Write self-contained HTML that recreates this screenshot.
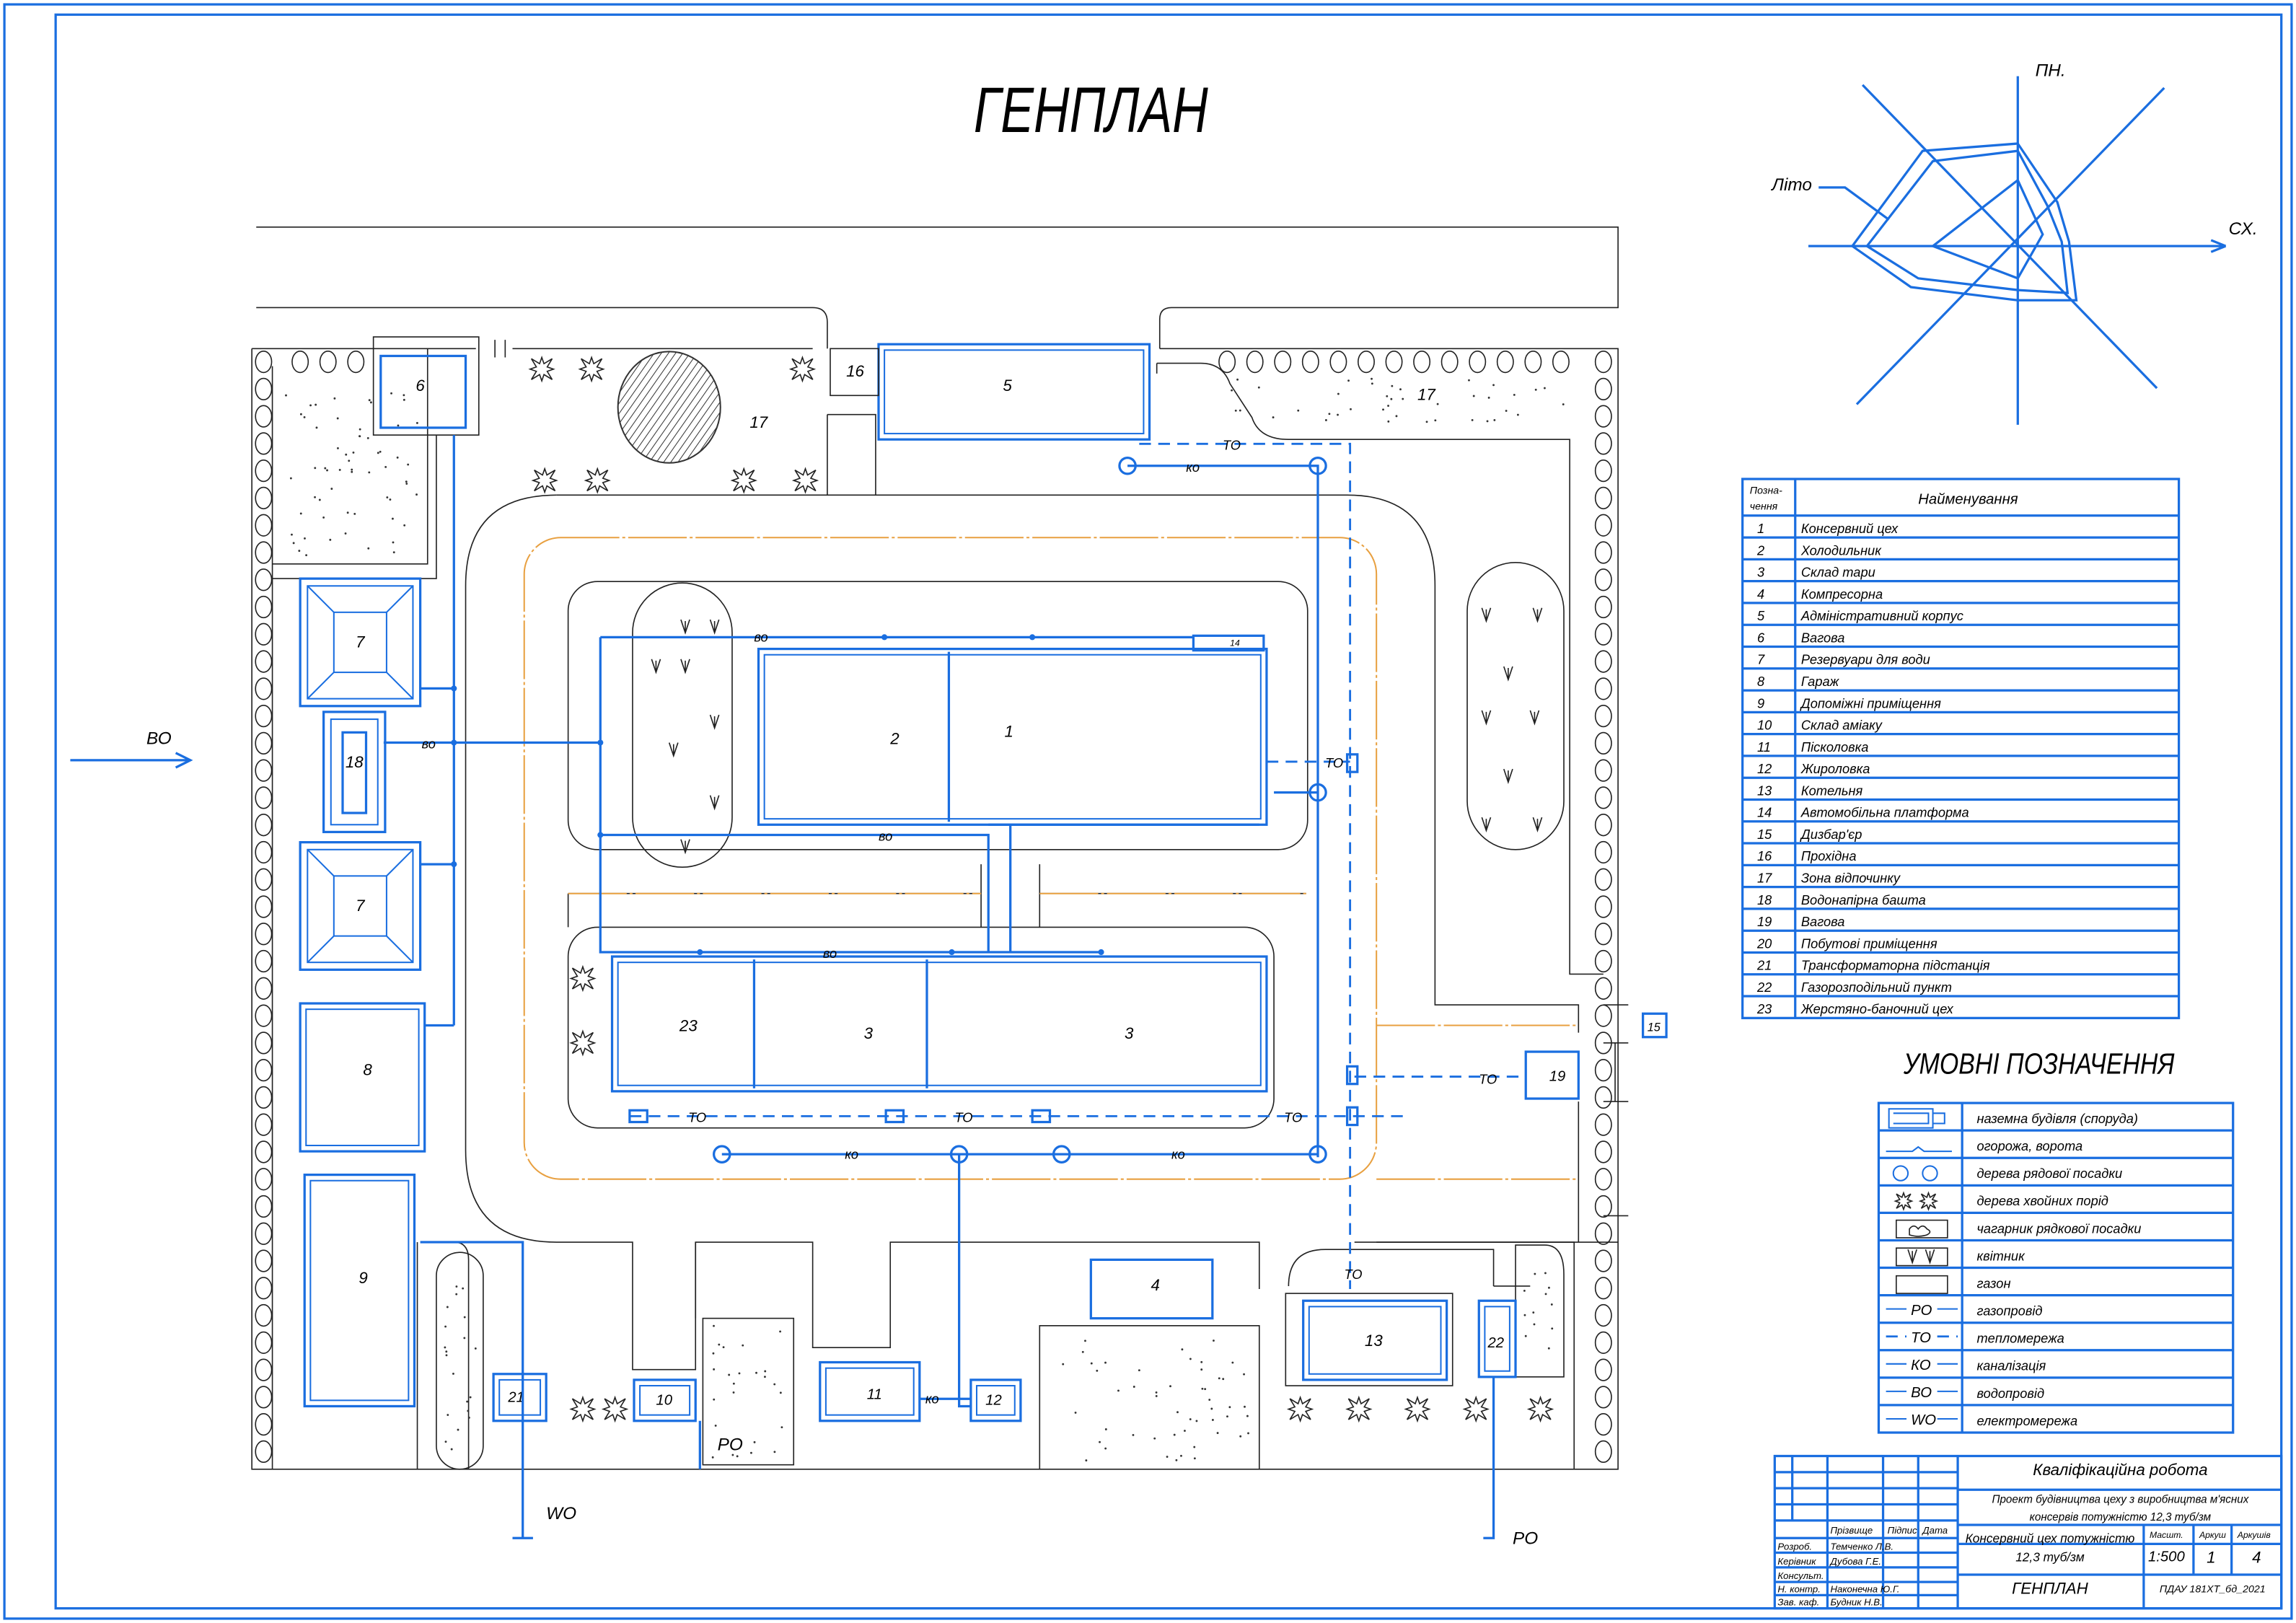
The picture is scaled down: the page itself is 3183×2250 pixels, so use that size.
<!DOCTYPE html>
<html><head><meta charset="utf-8"><style>
html,body{margin:0;padding:0;background:#fff;}
svg{display:block;}
text{font-family:"Liberation Sans","DejaVu Sans",sans-serif;font-style:italic;fill:#000;}
.b{stroke:#1a6ee0;fill:none;stroke-width:1.6}
.bt{stroke:#1a6ee0;fill:none;stroke-width:1}
.k{stroke:#222;fill:none;stroke-width:0.8}
.o{stroke:#e8a040;fill:none;stroke-width:1;stroke-dasharray:40 2 2 2}
.d{stroke:#1a6ee0;fill:none;stroke-width:1.4;stroke-dasharray:8 5}
</style></head><body>
<svg id="s" width="3183" height="2250" viewBox="0 0 1568 1108" preserveAspectRatio="none" xmlns="http://www.w3.org/2000/svg">
<rect x="0" y="0" width="1568" height="1108" fill="#fff"/>
<rect x="3" y="3" width="1562" height="1102" class="b"/>
<rect x="38" y="10" width="1520" height="1088" class="b"/>
<text x="745" y="90" font-size="44" text-anchor="middle" textLength="160" lengthAdjust="spacingAndGlyphs">ГЕНПЛАН</text>

<path class="k" d="M175 155 H1105 V210 H800 Q792 210 792 218 V238 M175 210 H555 Q565 210 565 220 V238"/>
<path class="k" d="M172 238 H325 M350 238 H555 M792 238 H1105 V1003 H172 V238"/>
<line x1="338" y1="232" x2="338" y2="244" class="k"/><line x1="345" y1="232" x2="345" y2="244" class="k"/>

<path class="k" d="M565 283 H598 V338 M565 283 V338 M380 338 H920 Q980 338 980 400 V686 H1078 V705 M1078 752 V848 H940 M1078 848 H1105"/>
<path class="k" d="M380 338 Q318 338 318 400 V785 Q318 848 380 848 H432 V935 H475 V848"/>
<path class="k" d="M475 900 V848 H555 V920 H608 V848 H860 V880 M925 848 H1075 V1003"/>
<path class="k" d="M790 248 H820 Q835 248 840 262 L855 285 Q860 300 880 300 H1072 V665 H1095 M790 248 V255"/>
<path class="k" d="M186 385 H292 V238 M186 250 V1003 M292 848 H310 Q320 848 320 860 V1003 M285 848 V1003 M186 395 H298 V297"/>
<rect x="298" y="855" width="32" height="148" rx="16" class="k"/>
<rect x="480" y="900" width="62" height="100" class="k"/>
<path class="k" d="M710 1003 V905 H860 V1003"/>
<path class="k" d="M1035 850 H1055 Q1068 850 1068 870 V940 H1035 Z"/>
<path class="k" d="M880 878 Q880 853 905 853 H1020 V878 M1045 878 H1020"/>
<rect x="388" y="397" width="505" height="183" rx="20" class="k"/>
<rect x="388" y="633" width="482" height="137" rx="20" class="k"/>
<path class="k" d="M388 610 H670 M710 610 H892 M388 633 V610 M670 590 V633 M710 590 V633"/>
<rect x="358" y="367" width="582" height="438" rx="25" class="o"/>
<path class="o" d="M940 700 H1078 M940 805 H1078 M388 610 H670 M710 610 H892"/>

<g id="dots" fill="#333"></g>

<rect x="255" y="230" width="72" height="67" class="k"/>
<rect x="260" y="243" width="58" height="49" class="b"/>
<text x="287" y="267" font-size="11" text-anchor="middle">6</text>
<rect x="600" y="235" width="185" height="65" class="b"/>
<rect x="604" y="239" width="177" height="57" class="bt"/>
<text x="688" y="267" font-size="11" text-anchor="middle">5</text>
<rect x="567" y="238" width="33" height="32" class="k"/>
<text x="584" y="257" font-size="11" text-anchor="middle">16</text>
<defs><pattern id="h" width="4" height="4" patternUnits="userSpaceOnUse" patternTransform="rotate(35)"><line x1="0" y1="0" x2="0" y2="4" stroke="#333" stroke-width="1"/></pattern></defs>
<ellipse cx="457" cy="278" rx="35" ry="38" fill="url(#h)" stroke="#333"/>
<text x="512" y="292" font-size="11">17</text>
<text x="968" y="273" font-size="11">17</text>

<rect x="518" y="443" width="347" height="120" class="b"/>
<rect x="522" y="447" width="339" height="112" class="bt"/>
<line x1="648" y1="445" x2="648" y2="561" class="b"/>
<text x="608" y="508" font-size="11">2</text><text x="686" y="503" font-size="11">1</text>
<rect x="815" y="434" width="48" height="10" class="b"/>
<text x="840" y="441" font-size="6">14</text>
<rect x="418" y="653" width="447" height="92" class="b"/>
<rect x="422" y="657" width="439" height="84" class="bt"/>
<line x1="515" y1="655" x2="515" y2="743" class="b"/><line x1="633" y1="655" x2="633" y2="743" class="b"/>
<text x="464" y="704" font-size="11">23</text><text x="590" y="709" font-size="11">3</text><text x="768" y="709" font-size="11">3</text>

<g><rect x="205" y="395" width="82" height="87" class="b"/><rect x="210" y="400" width="72" height="77" class="bt"/><rect x="228" y="418" width="36" height="41" class="bt"/><path class="bt" d="M210 400 L228 418 M282 400 L264 418 M210 477 L228 459 M282 477 L264 459"/><text x="246" y="442" font-size="11" text-anchor="middle">7</text></g>
<g transform="translate(0,180)"><rect x="205" y="395" width="82" height="87" class="b"/><rect x="210" y="400" width="72" height="77" class="bt"/><rect x="228" y="418" width="36" height="41" class="bt"/><path class="bt" d="M210 400 L228 418 M282 400 L264 418 M210 477 L228 459 M282 477 L264 459"/><text x="246" y="442" font-size="11" text-anchor="middle">7</text></g>
<rect x="221" y="486" width="42" height="82" class="b"/><rect x="226" y="491" width="32" height="72" class="bt"/><rect x="234" y="500" width="16" height="55" class="b"/>
<text x="242" y="524" font-size="11" text-anchor="middle">18</text>
<rect x="205" y="685" width="85" height="101" class="b"/><rect x="209" y="689" width="77" height="93" class="bt"/>
<text x="248" y="734" font-size="11">8</text>
<rect x="208" y="802" width="75" height="158" class="b"/><rect x="212" y="806" width="67" height="150" class="bt"/>
<text x="245" y="876" font-size="11">9</text>
<rect x="745" y="860" width="83" height="40" class="b"/><text x="786" y="881" font-size="11">4</text>
<rect x="878" y="883" width="114" height="63" class="k"/><rect x="890" y="888" width="98" height="54" class="b"/><rect x="894" y="892" width="90" height="46" class="bt"/><text x="932" y="919" font-size="11">13</text>
<rect x="1010" y="888" width="25" height="52" class="b"/><rect x="1014" y="892" width="17" height="44" class="bt"/><text x="1016" y="920" font-size="10">22</text>
<rect x="337" y="938" width="36" height="32" class="b"/><rect x="341" y="942" width="28" height="24" class="bt"/><text x="347" y="957" font-size="10">21</text>
<rect x="433" y="942" width="42" height="28" class="b"/><rect x="437" y="946" width="34" height="20" class="bt"/><text x="448" y="959" font-size="10">10</text>
<rect x="560" y="930" width="68" height="40" class="b"/><rect x="564" y="934" width="60" height="32" class="bt"/><text x="592" y="955" font-size="10">11</text>
<rect x="663" y="942" width="34" height="28" class="b"/><rect x="667" y="946" width="26" height="20" class="bt"/><text x="673" y="959" font-size="10">12</text>
<rect x="1042" y="718" width="36" height="32" class="b"/><text x="1058" y="738" font-size="10">19</text>
<rect x="1122" y="692" width="16" height="16" class="b"/><text x="1125" y="704" font-size="8">15</text>
<path class="k" d="M1095 686 H1112 M1095 712 H1112 M1103 712 V752 M1095 752 H1112 M1095 830 H1112"/>

<rect x="432" y="398" width="68" height="194" rx="34" class="k"/>
<rect x="1002" y="384" width="66" height="196" rx="33" class="k"/>
<g id="flw" class="k"></g>

<path class="b" stroke-width="1.2" d="M48 519 H130 M120 514 L130 519 L120 524 M262 507 H410 M310 297 V700 M287 470 H310 M287 590 H310 M290 700 H310 M410 435 V650 H752 M410 435 H815 M410 570 H675 V650 M690 563 V650 M675 563 H860"/>
<text x="100" y="508" font-size="12">ВО</text>
<text x="288" y="511" font-size="9">во</text><text x="515" y="438" font-size="9">во</text><text x="600" y="574" font-size="9">во</text><text x="562" y="654" font-size="9">во</text>
<g fill="#1a6ee0"><circle cx="310" cy="470" r="2"/><circle cx="310" cy="590" r="2"/><circle cx="310" cy="507" r="2"/><circle cx="410" cy="507" r="2"/><circle cx="410" cy="570" r="2"/><circle cx="604" cy="435" r="2"/><circle cx="705" cy="435" r="2"/><circle cx="478" cy="650" r="2"/><circle cx="650" cy="650" r="2"/><circle cx="752" cy="650" r="2"/></g>
<path class="b" stroke-width="1.2" d="M770 318 H900 V790 M493 788 H900 M655 788 V960 H663 M628 955 H663 M870 541 H900"/>
<g class="b" fill="#fff"><circle cx="770" cy="318" r="5.5"/><circle cx="900" cy="318" r="5.5"/><circle cx="900" cy="541" r="5.5"/><circle cx="493" cy="788" r="5.5"/><circle cx="655" cy="788" r="5.5"/><circle cx="725" cy="788" r="5.5"/><circle cx="900" cy="788" r="5.5"/></g>
<text x="810" y="322" font-size="9">ко</text><text x="577" y="791" font-size="9">ко</text><text x="800" y="791" font-size="9">ко</text><text x="632" y="958" font-size="9">ко</text>
<path class="d" d="M778 303 H922 V880 M430 762 H958 M925 735 H1042 M865 520 H922"/>
<g class="b" fill="#fff"><rect x="920" y="515" width="7" height="12"/><rect x="430" y="758" width="12" height="8"/><rect x="605" y="758" width="12" height="8"/><rect x="705" y="758" width="12" height="8"/><rect x="920" y="728" width="7" height="12"/><rect x="920" y="756" width="7" height="12"/></g>
<text x="835" y="307" font-size="9">ТО</text><text x="905" y="524" font-size="9">ТО</text><text x="470" y="766" font-size="9">ТО</text><text x="652" y="766" font-size="9">ТО</text><text x="877" y="766" font-size="9">ТО</text><text x="1010" y="740" font-size="9">ТО</text><text x="918" y="873" font-size="9">ТО</text>
<path class="b" stroke-width="1.2" d="M287 848 H357 V1050 M350 1050 H364 M478 970 V1003 M1020 940 V1050 H1013"/>
<text x="373" y="1037" font-size="12">WO</text><text x="490" y="990" font-size="12">РО</text><text x="1033" y="1054" font-size="12">РО</text>

<g id="conif" class="k"></g>
<g id="trees" class="k"></g>

<g class="b" stroke-width="1.2">
<line x1="1378" y1="52" x2="1378" y2="290"/><line x1="1235" y1="168" x2="1520" y2="168"/>
<line x1="1272" y1="58" x2="1473" y2="265"/><line x1="1268" y1="276" x2="1478" y2="60"/>
<path d="M1378 103 L1320 110 L1275 168 L1310 190 L1378 198 L1412 200 L1408 165 L1398 140 Z"/>
<path d="M1378 98 L1313 103 L1265 168 L1305 196 L1378 205 L1418 205 L1413 165 L1405 138 Z"/>
<path d="M1378 123 L1320 168 L1378 190 L1395 160 Z"/>
<path d="M1242 128 L1260 128 L1290 150"/>
</g>
<line x1="1510" y1="164" x2="1520" y2="168" class="b"/><line x1="1510" y1="172" x2="1520" y2="168" class="b"/>
<text x="1390" y="52" font-size="12">ПН.</text><text x="1522" y="160" font-size="12">СХ.</text><text x="1210" y="130" font-size="12">Літо</text>

<g id="tbl"></g>
<text x="1300" y="733" font-size="20" textLength="185" lengthAdjust="spacingAndGlyphs">УМОВНІ ПОЗНАЧЕННЯ</text>
<g id="leg"></g>

<g class="b" stroke-width="1.5">
<rect x="1212" y="994" width="346" height="104"/>
<path d="M1212 1005 H1337 M1212 1016 H1337 M1212 1027 H1337 M1212 1038 H1337 M1337 1017 H1558 M1337 1041 H1558 M1212 1050 H1337 M1337 1054 H1558 M1212 1060 H1337 M1212 1070 H1337 M1212 1080 H1337 M1212 1089 H1337 M1337 1075 H1558 M1464 1041 V1098 M1464 1054 H1558 M1498 1041 V1075 M1524 1041 V1075 M1224 994 V1038 M1248 994 V1098 M1286 994 V1098 M1310 994 V1098 M1337 994 V1098"/>
</g>
<g font-size="6.5">
<text x="1250" y="1047">Прізвище</text><text x="1289" y="1047">Підпис</text><text x="1313" y="1047">Дата</text>
<text x="1214" y="1058">Розроб.</text><text x="1250" y="1058">Темченко Л.В.</text>
<text x="1214" y="1068">Керівник</text><text x="1250" y="1068">Дубова Г.Е.</text>
<text x="1214" y="1078">Консульт.</text>
<text x="1214" y="1087">Н. контр.</text><text x="1250" y="1087">Наконечна Ю.Г.</text>
<text x="1214" y="1096">Зав. каф.</text><text x="1250" y="1096">Будник Н.В.</text>
</g>
<text x="1448" y="1007" font-size="11" text-anchor="middle">Кваліфікаційна робота</text>
<text x="1448" y="1026" font-size="7.5" text-anchor="middle">Проект будівництва цеху з виробництва м'ясних</text>
<text x="1448" y="1038" font-size="7.5" text-anchor="middle">консервів потужністю 12,3 туб/зм</text>
<text x="1400" y="1053" font-size="8.5" text-anchor="middle">Консервний цех потужністю</text>
<text x="1400" y="1066" font-size="8.5" text-anchor="middle">12,3 туб/зм</text>
<text x="1468" y="1050" font-size="6">Масшт.</text><text x="1502" y="1050" font-size="6">Аркуш</text><text x="1528" y="1050" font-size="6">Аркушів</text>
<text x="1467" y="1066" font-size="10">1:500</text><text x="1507" y="1067" font-size="11">1</text><text x="1538" y="1067" font-size="11">4</text>
<text x="1400" y="1088" font-size="11" text-anchor="middle">ГЕНПЛАН</text>
<text x="1511" y="1087" font-size="7" text-anchor="middle">ПДАУ 181ХТ_бд_2021</text>
</svg>
<script>
var NS="http://www.w3.org/2000/svg",s=document.getElementById('s');
function el(p,t,a,tx){var e=document.createElementNS(NS,t);for(var k in a)e.setAttribute(k,a[k]);if(tx)e.textContent=tx;p.appendChild(e);return e;}
var tr=document.getElementById('trees');
for(var y=247;y<=992;y+=18.6){el(tr,'ellipse',{cx:180,cy:y,rx:5.5,ry:7.3});el(tr,'ellipse',{cx:1095,cy:y,rx:5.5,ry:7.3});}
for(var x=205;x<=250;x+=19)el(tr,'ellipse',{cx:x,cy:247,rx:5.5,ry:7.3});
for(var x=838;x<=1080;x+=19)el(tr,'ellipse',{cx:x,cy:247,rx:5.5,ry:7.3});
var cf=document.getElementById('conif');
function star(g,cx,cy,R){var d='';for(var i=0;i<16;i++){var a=i*Math.PI/8-Math.PI/2,r=(i%2?R*0.4:R*(i%4?1:0.8));d+=(i?'L':'M')+(cx+r*Math.cos(a)).toFixed(1)+' '+(cy+r*Math.sin(a)).toFixed(1);}el(g,'path',{d:d+'Z'});}
[[370,252],[404,252],[548,252],[372,328],[408,328],[508,328],[550,328],[398,668],[398,712],[398,962],[420,962],[888,962],[928,962],[968,962],[1008,962],[1052,962]].forEach(function(p){star(cf,p[0],p[1],10);});
var dt=document.getElementById('dots');
function dots(x0,y0,w,h,n){for(var i=0;i<n;i++){el(dt,'circle',{cx:x0+Math.random()*w,cy:y0+Math.random()*h,r:0.7});}}
dots(195,260,90,120,60);dots(840,258,230,30,40);dots(720,912,135,85,50);dots(300,870,25,125,20);dots(1040,860,22,75,12);dots(485,905,52,90,25);
var fl=document.getElementById('flw');
function V(g,x,y){el(g,'path',{d:'M'+(x-3)+' '+(y-5)+' L'+x+' '+(y+4)+' L'+(x+3)+' '+(y-5)+' M'+x+' '+(y-4)+' V'+(y+4)});}
[[468,428],[448,455],[488,428],[468,455],[488,493],[460,512],[488,548],[468,578],[1015,420],[1050,420],[1030,460],[1015,490],[1048,490],[1030,530],[1015,563],[1050,563]].forEach(function(p){V(fl,p[0],p[1]);});
var tb=document.getElementById('tbl');
var names=["Консервний цех","Холодильник","Склад тари","Компресорна","Адміністративний корпус","Вагова","Резервуари для води","Гараж","Допоміжні приміщення","Склад аміаку","Пісколовка","Жироловка","Котельня","Автомобільна платформа","Дизбар'єр","Прохідна","Зона відпочинку","Водонапірна башта","Вагова","Побутові приміщення","Трансформаторна підстанція","Газорозподільний пункт","Жерстяно-баночний цех"];
el(tb,'rect',{x:1190,y:327,width:298,height:368,'class':'b'});
el(tb,'line',{x1:1226,y1:327,x2:1226,y2:695,'class':'b'});
el(tb,'text',{x:1195,y:337,'font-size':7},'Позна-');el(tb,'text',{x:1195,y:348,'font-size':7},'чення');
el(tb,'text',{x:1310,y:344,'font-size':10},'Найменування');
var rh=(695-352)/23;
for(var i=0;i<23;i++){var y=352+i*rh;el(tb,'line',{x1:1190,y1:y,x2:1488,y2:y,'class':'b'});
el(tb,'text',{x:1200,y:y+rh-3,'font-size':9},String(i+1));el(tb,'text',{x:1230,y:y+rh-3,'font-size':9},names[i]);}
var lg=document.getElementById('leg');
var ln=["наземна будівля (споруда)","огорожа, ворота","дерева рядової посадки","дерева хвойних порід","чагарник рядкової посадки","квітник","газон","газопровід","тепломережа","каналізація","водопровід","електромережа"];
el(lg,'rect',{x:1283,y:753,width:242,height:225,'class':'b'});
el(lg,'line',{x1:1340,y1:753,x2:1340,y2:978,'class':'b'});
var lh=225/12;
for(var i=0;i<12;i++){var y=753+i*lh;if(i)el(lg,'line',{x1:1283,y1:y,x2:1525,y2:y,'class':'b'});
el(lg,'text',{x:1350,y:y+lh-5,'font-size':9},ln[i]);}
function L(d,c){el(lg,'path',{d:d,'class':c||'bt'});}
L('M1290 757 H1320 V770 H1290 Z M1293 760 H1317 V767 H1293 M1320 760 H1328 V767 H1320','bt');
L('M1288 786 H1306 L1310 783 L1314 786 H1333');
el(lg,'circle',{cx:1298,cy:801,r:5,'class':'bt'});el(lg,'circle',{cx:1318,cy:801,r:5,'class':'bt'});
var lgk=el(lg,'g',{'class':'k'});star(lgk,1300,820,7);star(lgk,1317,820,7);
L('M1295 833 H1330 V845 H1295 Z M1295 852 H1330 V864 H1295 Z M1295 871 H1330 V883 H1295 Z','k');
el(lgk,'path',{d:'M1304 839 q3 -4 6 0 q3 -4 6 0 q4 2 0 4 q-6 2 -12 0 Z'});
V(lgk,1306,858);V(lgk,1318,858);
var lbl=["РО","ТО","КО","ВО","WO"];
for(var j=0;j<5;j++){var y=753+(7+j)*lh+lh/2;L('M1288 '+y+' H1302 M1323 '+y+' H1337',j==1?'d':'bt');el(lg,'text',{x:1305,y:y+4,'font-size':10},lbl[j]);}
</script>
</body></html>
